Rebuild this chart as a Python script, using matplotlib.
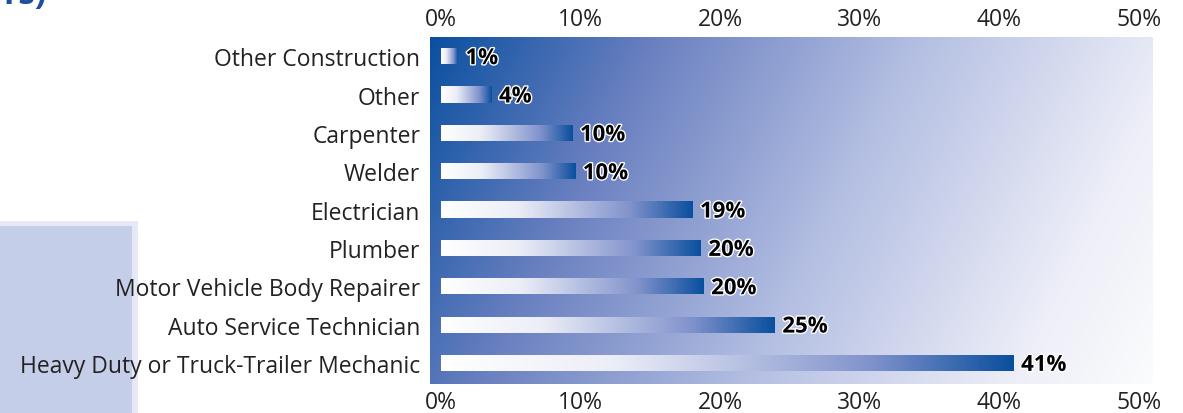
import matplotlib
matplotlib.use("Agg")
import matplotlib.pyplot as plt
import numpy as np
from matplotlib.colors import LinearSegmentedColormap
from matplotlib.patches import Rectangle
import matplotlib.patheffects as pe

# data (bar lengths in %, printed labels)
trades = ["Other Construction", "Other", "Carpenter", "Welder", "Electrician",
          "Plumber", "Motor Vehicle Body Repairer", "Auto Service Technician",
          "Heavy Duty or Truck-Trailer Mechanic"]
share = [1.2, 3.6, 9.4, 9.6, 18.0, 18.6, 18.8, 23.9, 41.0]
share_labels = ["1%", "4%", "10%", "10%", "19%", "20%", "20%", "25%", "41%"]
ticks = [0, 10, 20, 30, 40, 50]
tick_labels = ["0%", "10%", "20%", "30%", "40%", "50%"]

plt.rcParams['font.family'] = ['Open Sans', 'DejaVu Sans']

fig = plt.figure(figsize=(11.83, 4.14), dpi=100)

# light blue box behind the labels on the left
fig.patches.append(Rectangle((0, 0), 138/1183, 192/414, transform=fig.transFigure,
                             facecolor='#e6e9f5', edgecolor='none', zorder=-2))
fig.patches.append(Rectangle((0, 0), 132/1183, 187/414, transform=fig.transFigure,
                             facecolor='#c5cee8', edgecolor='none', zorder=-1))

# cut off title in the top left corner
fig.text(0.039, 1 - 4/414, "rs)", ha='right', va='baseline', fontsize=24,
         weight='bold', color='#1d4f9c')

ax = fig.add_axes([430/1183, 1 - 385/414, 723/1183, 347/414])
ax.patch.set_alpha(0)

xlo, xhi = -0.79, 51.0
ylo, yhi = 8.55, -0.5
ax.set_xlim(xlo, xhi)
ax.set_ylim(ylo, yhi)

# diagonal background gradient
bg_cmap = LinearSegmentedColormap.from_list(
    "bg", [(0, '#0b50a0'), (0.25, '#6a80c0'), (0.55, '#b4bfe2'),
           (0.85, '#eeeff8'), (1, '#fbfcfd')])
nx, ny = 400, 200
gx, gy = np.meshgrid(np.linspace(0, 723, nx), np.linspace(0, 347, ny))
t = (gx + 0.5 * gy) / (723 + 0.5 * 347)
ax.imshow(t, cmap=bg_cmap, extent=(xlo, xhi, ylo, yhi), aspect='auto',
          interpolation='bilinear', zorder=0)

# bars with a white-to-blue gradient
bar_cmap = LinearSegmentedColormap.from_list(
    "bar", [(0, '#ffffff'), (0.3, '#eceef7'), (0.75, '#8193cc'), (1, '#0a4f9e')])
bars = ax.barh(range(len(trades)), share, height=0.42, left=0,
               color='none', edgecolor='none', zorder=2)
grad = np.linspace(0, 1, 256).reshape(1, -1)
for i, (b, v) in enumerate(zip(bars, share)):
    im = ax.imshow(grad, cmap=bar_cmap, extent=(0, v, i + 0.21, i - 0.21),
                   aspect='auto', interpolation='bilinear', zorder=2)
    im.set_clip_path(b)
    ax.text(v + 0.55, i, share_labels[i], va='center_baseline', ha='left', fontsize=16,
            weight='bold', color='black', zorder=3,
            path_effects=[pe.withStroke(linewidth=2, foreground='white')])

ax.set_xlim(xlo, xhi)
ax.set_ylim(ylo, yhi)

ax.set_yticks(range(len(trades)))
ax.set_yticklabels(trades, fontsize=16.5, color='#222222')
ax.set_xticks(ticks)
ax.set_xticklabels(tick_labels, fontsize=16.5, color='#222222')
ax.tick_params(axis='x', length=0, pad=4, labeltop=True, labelbottom=True)
ax.tick_params(axis='y', length=0, pad=7)
for s in ax.spines.values():
    s.set_visible(False)

fig.savefig("out.png", dpi=100)
